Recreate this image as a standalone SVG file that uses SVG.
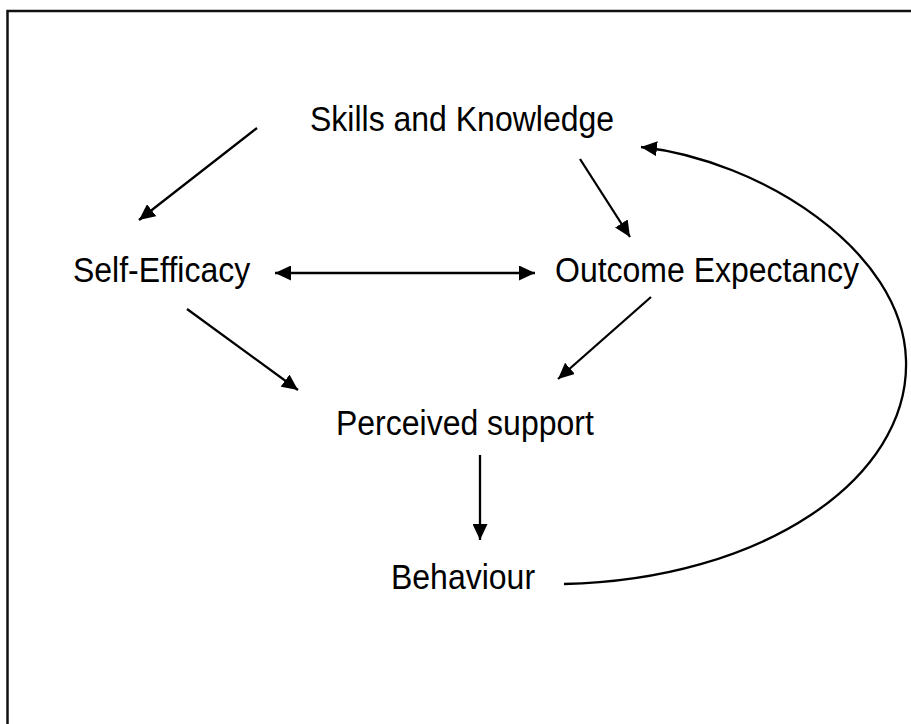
<svg xmlns="http://www.w3.org/2000/svg" width="911" height="724" viewBox="0 0 911 724">
  <defs>
    <marker id="head" viewBox="0 0 16 15" refX="16" refY="7.5" markerWidth="16" markerHeight="15" markerUnits="userSpaceOnUse" orient="auto-start-reverse">
      <path d="M0,0 L16,7.5 L0,15 Z" fill="#000"/>
    </marker>
    <style>
      .label { font-family: "Liberation Sans", Arial, sans-serif; font-size: 32px; fill: #000; }
      .edge { fill: none; stroke: #000; stroke-width: 2.3; }
      .frame { fill: none; stroke: #111; stroke-width: 2.5; }
    </style>
  </defs>

  <rect width="911" height="724" fill="#fff"/>
  <!-- outer frame, running off the right and bottom edges -->
  <rect class="frame" x="7.5" y="11" width="930" height="740"/>

  <g id="skills-knowledge">
    <text class="label" transform="translate(310,131) scale(1,1.07)">Skills and Knowledge</text>
  </g>
  <g id="self-efficacy">
    <text class="label" transform="translate(73,282) scale(1,1.07)">Self-Efficacy</text>
  </g>
  <g id="outcome-expectancy">
    <text class="label" transform="translate(555,282) scale(1,1.07)">Outcome Expectancy</text>
  </g>
  <g id="perceived-support">
    <text class="label" transform="translate(336,435) scale(1,1.07)">Perceived support</text>
  </g>
  <g id="behaviour">
    <text class="label" transform="translate(391,589) scale(1,1.07)">Behaviour</text>
  </g>

  <g id="connectors">
    <line class="edge" x1="257" y1="128" x2="139" y2="220" marker-end="url(#head)"/>
    <line class="edge" x1="580" y1="159" x2="630" y2="237" marker-end="url(#head)"/>
    <line class="edge" x1="275" y1="273" x2="535" y2="273" marker-start="url(#head)" marker-end="url(#head)"/>
    <line class="edge" x1="187" y1="309" x2="298" y2="390" marker-end="url(#head)"/>
    <line class="edge" x1="651" y1="297" x2="558" y2="379" marker-end="url(#head)"/>
    <line class="edge" x1="480" y1="455" x2="480" y2="540" marker-end="url(#head)"/>
    <path class="edge" d="M564,584 C760,580 910,480 906,360 C903,250 760,160 641,147" marker-end="url(#head)"/>
  </g>
</svg>
